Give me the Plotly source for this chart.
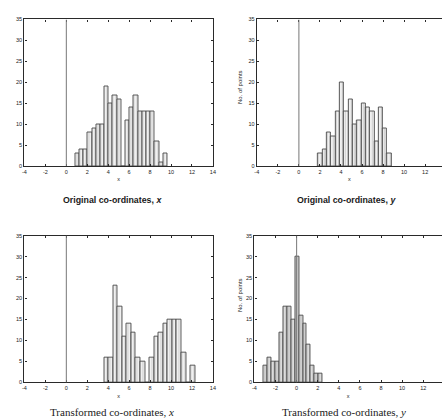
import plotly.graph_objects as go

# Histogram counts of point coordinates before and after the transformation.
# Each histogram: bin centres and number of points per bin.
orig_x_centres = [1.05, 1.45, 1.85, 2.25, 2.65, 3.05, 3.45, 3.85, 4.25, 4.65, 5.05,
                  5.45, 5.85, 6.25, 6.65, 7.05, 7.45, 7.85, 8.25, 8.65, 9.05, 9.45]
orig_x_counts = [3, 4, 4, 8, 9, 10, 10, 19, 15, 17, 16,
                 0, 11, 14, 17, 13, 13, 13, 13, 6, 1, 3]
orig_x_binwidth = 0.40

orig_y_centres = [2.045, 2.455, 2.865, 3.275, 3.685, 4.095, 4.505, 4.915, 5.325,
                  5.735, 6.145, 6.555, 6.965, 7.375, 7.785, 8.195, 8.605]
orig_y_counts = [3, 4, 8, 7, 13, 20, 13, 16, 10, 11, 15, 14, 13, 6, 14, 9, 3]
orig_y_binwidth = 0.41

trans_x_centres = [3.82, 4.25, 4.69, 5.12, 5.56, 5.99, 6.43, 6.86, 7.30, 7.73,
                   8.17, 8.60, 9.04, 9.47, 9.91, 10.34, 10.78, 11.21, 11.65, 12.08]
trans_x_counts = [6, 6, 23, 18, 11, 14, 12, 6, 5, 0,
                  6, 11, 12, 14, 15, 15, 15, 7, 0, 4]
trans_x_binwidth = 0.435

trans_y_centres = [-2.915, -2.545, -2.175, -1.805, -1.435, -1.065, -0.695, -0.325,
                   0.045, 0.415, 0.785, 1.155, 1.525, 1.895, 2.265]
trans_y_counts = [4, 6, 5, 5, 12, 18, 18, 15, 30, 16, 14, 9, 4, 2, 2]
trans_y_binwidth = 0.37

x_ticks = [-4, -2, 0, 2, 4, 6, 8, 10, 12, 14]
y_ticks = [0, 5, 10, 15, 20, 25, 30, 35]

W, H = 445, 419


def px_x(p):
    return p / W


def px_y(p):
    return 1 - p / H


panels = [
    dict(c=orig_x_centres, n=orig_x_counts, w=orig_x_binwidth,
         dom_x=(22.7, 213.3), dom_y=(16.7, 165.7), rng=(-4, 14), mirror_y=True,
         fill="#f0f0f0", pat="#9a9a9a"),
    dict(c=orig_y_centres, n=orig_y_counts, w=orig_y_binwidth,
         dom_x=(257.7, 445), dom_y=(16.7, 165.7), rng=(-4, 13.6), mirror_y=False,
         fill="#f0f0f0", pat="#9a9a9a"),
    dict(c=trans_x_centres, n=trans_x_counts, w=trans_x_binwidth,
         dom_x=(22.7, 213.3), dom_y=(236, 385), rng=(-4, 14), mirror_y=True,
         fill="#f0f0f0", pat="#9a9a9a"),
    dict(c=trans_y_centres, n=trans_y_counts, w=trans_y_binwidth,
         dom_x=(255.3, 445), dom_y=(236, 385), rng=(-4, 13.78), mirror_y=False,
         fill="#dcdcdc", pat="#8a8a8a"),
]

fig = go.Figure()
axis_font = dict(family="Liberation Sans", size=5.5, color="#222222")
line_col = "#2a2a2a"
layout = {}

for i, p in enumerate(panels, start=1):
    sx = "" if i == 1 else str(i)
    fig.add_trace(go.Bar(
        x=p["c"], y=p["n"], width=p["w"],
        xaxis="x" + sx, yaxis="y" + sx,
        marker=dict(color=p["fill"],
                    line=dict(color="#4a4a4a", width=0.9),
                    pattern=dict(shape="|", fgcolor=p["pat"], bgcolor=p["fill"],
                                 size=3, solidity=0.25)),
        showlegend=False, hoverinfo="x+y",
    ))
    layout["xaxis" + sx] = dict(
        domain=[px_x(p["dom_x"][0]), px_x(p["dom_x"][1])],
        anchor="y" + sx, range=list(p["rng"]),
        tickvals=x_ticks, ticktext=[str(t) for t in x_ticks],
        ticks="inside", ticklen=2, tickwidth=1, tickcolor=line_col,
        showline=True, linecolor=line_col, linewidth=1.4, mirror="ticks",
        showgrid=False, zeroline=False, tickfont=axis_font,
        title=dict(text="x", font=dict(family="Liberation Sans", size=5.5,
                                       color="#222222"), standoff=3),
    )
    layout["yaxis" + sx] = dict(
        domain=[px_y(p["dom_y"][1]), px_y(p["dom_y"][0])],
        anchor="x" + sx, range=[0, 35],
        tickvals=y_ticks, ticktext=[str(t) for t in y_ticks],
        ticks="inside", ticklen=2, tickwidth=1, tickcolor=line_col,
        showline=True, linecolor=line_col, linewidth=1.4,
        mirror="ticks" if p["mirror_y"] else False,
        showgrid=False, zeroline=False, tickfont=axis_font,
    )
    # reference line at zero
    fig.add_shape(type="line", xref="x" + sx, yref="y" + sx,
                  x0=0, x1=0, y0=0, y1=35,
                  line=dict(color="#777777", width=1), layer="above")

captions = [
    ("<b>Original co-ordinates, <i>x</i></b>", 112, 200, "Liberation Sans", 8.8),
    ("<b>Original co-ordinates, <i>y</i></b>", 348, 200, "Liberation Sans", 8.8),
    ("Transformed co-ordinates, <i>x</i>", 111, 415, "Liberation Serif", 11),
    ("Transformed co-ordinates, <i>y</i>", 346, 415, "Liberation Serif", 11),
]
annotations = []
for text, cx, cy, fam, sz in captions:
    annotations.append(dict(text=text, x=px_x(cx), y=px_y(cy), xref="paper",
                            yref="paper", showarrow=False, xanchor="center",
                            yanchor="middle",
                            font=dict(family=fam, size=sz, color="#1a1a1a")))

for cy in (85, 296):
    annotations.append(dict(text="No. of points", x=px_x(240), y=px_y(cy),
                            xref="paper", yref="paper", showarrow=False,
                            textangle=-90, xanchor="center", yanchor="middle",
                            font=dict(family="Liberation Sans", size=6,
                                      color="#222222")))

fig.update_layout(
    width=W, height=H,
    margin=dict(l=0, r=0, t=0, b=0),
    paper_bgcolor="white", plot_bgcolor="white",
    bargap=0, annotations=annotations,
    **layout,
)

fig.write_html("out.html")
